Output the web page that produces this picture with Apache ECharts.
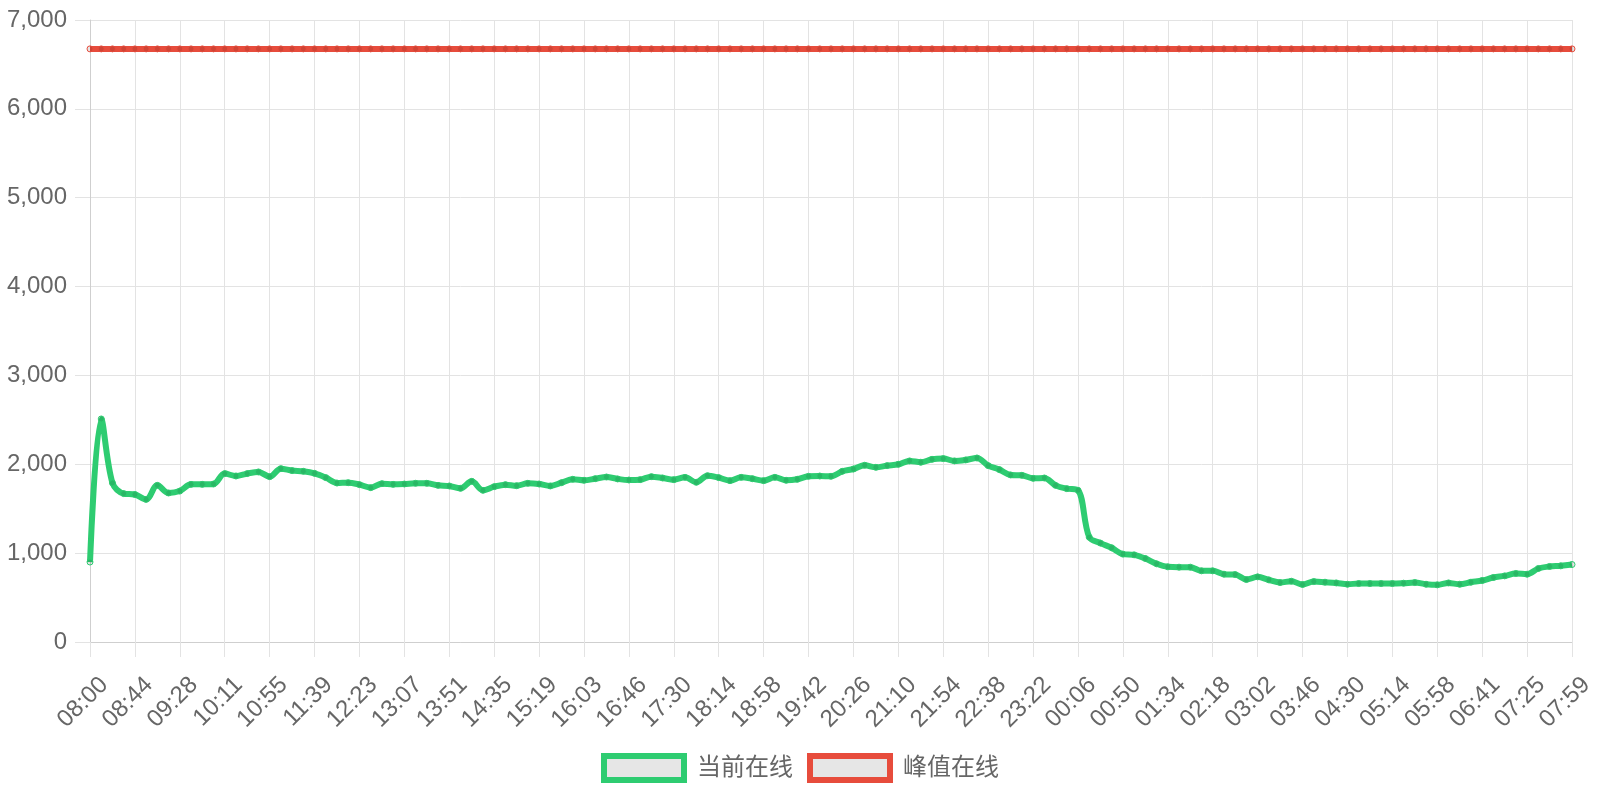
<!DOCTYPE html>
<html>
<head>
<meta charset="utf-8">
<script src="https://cdn.jsdelivr.net/npm/echarts@6/dist/echarts.min.js"></script>
<style>
html,body{margin:0;padding:0;background:#fff;}
#chart{width:1600px;height:800px;}
</style>
</head>
<body>
<div id="chart"></div>
<script>
const timeLabels = [
'08:00','08:11','08:22','08:33','08:44','08:55','09:06','09:17','09:28','09:39','09:50','10:00',
'10:11','10:22','10:33','10:44','10:55','11:06','11:17','11:28','11:39','11:50','12:01','12:12',
'12:23','12:34','12:45','12:56','13:07','13:18','13:29','13:40','13:51','14:02','14:13','14:24',
'14:35','14:46','14:57','15:08','15:19','15:30','15:41','15:52','16:03','16:14','16:25','16:35',
'16:46','16:57','17:08','17:19','17:30','17:41','17:52','18:03','18:14','18:25','18:36','18:47',
'18:58','19:09','19:20','19:31','19:42','19:53','20:04','20:15','20:26','20:37','20:48','20:59',
'21:10','21:21','21:32','21:43','21:54','22:05','22:16','22:27','22:38','22:49','23:00','23:11',
'23:22','23:33','23:44','23:55','00:06','00:17','00:28','00:39','00:50','01:01','01:12','01:23',
'01:34','01:45','01:56','02:07','02:18','02:29','02:40','02:51','03:02','03:13','03:24','03:35',
'03:46','03:57','04:08','04:19','04:30','04:41','04:52','05:03','05:14','05:25','05:36','05:47',
'05:58','06:09','06:20','06:30','06:41','06:52','07:03','07:14','07:25','07:34','07:42','07:51',
'07:59'
];

const currentOnline = [
900, 2510, 1790, 1670, 1660, 1605, 1763, 1677, 1699, 1774, 1774, 1778, 1895, 1868, 1895, 1914, 1861, 1951, 1929, 1921, 1898, 1850,
1789, 1793, 1771, 1737, 1782, 1774, 1778, 1786, 1786, 1763, 1756, 1729, 1808, 1707, 1748, 1771, 1759, 1786, 1778, 1756, 1793, 1831,
1820, 1838, 1857, 1835, 1823, 1827, 1861, 1846, 1827, 1853, 1797, 1872, 1850, 1816, 1853, 1838, 1816, 1853, 1820, 1831, 1865, 1868,
1865, 1921, 1947, 1989, 1966, 1985, 2000, 2038, 2023, 2056, 2064, 2038, 2049, 2071, 1985, 1940, 1880, 1876, 1842, 1846, 1763, 1726,
1707, 1180, 1113, 1060, 989, 981, 940, 880, 846, 842, 842, 801, 801, 763, 759, 703, 733, 699, 669, 684, 647, 680,
673, 665, 650, 658, 658, 658, 658, 662, 669, 650, 643, 665, 650, 673, 692, 726, 744, 771, 763, 827, 850, 857, 872
];

const peakOnline = [
6675,6675,6675,6675,6675,6675,6675,6675,6675,6675,6675,6675,6675,6675,6675,6675,6675,6675,6675,6675,6675,6675,
6675,6675,6675,6675,6675,6675,6675,6675,6675,6675,6675,6675,6675,6675,6675,6675,6675,6675,6675,6675,6675,6675,
6675,6675,6675,6675,6675,6675,6675,6675,6675,6675,6675,6675,6675,6675,6675,6675,6675,6675,6675,6675,6675,6675,
6675,6675,6675,6675,6675,6675,6675,6675,6675,6675,6675,6675,6675,6675,6675,6675,6675,6675,6675,6675,6675,6675,
6675,6675,6675,6675,6675,6675,6675,6675,6675,6675,6675,6675,6675,6675,6675,6675,6675,6675,6675,6675,6675,6675,
6675,6675,6675,6675,6675,6675,6675,6675,6675,6675,6675,6675,6675,6675,6675,6675,6675,6675,6675,6675,6675,6675,6675
];

const seriesNames = ['当前在线', '峰值在线'];
const yTicks = [0, 1000, 2000, 3000, 4000, 5000, 6000, 7000];

const GREEN = '#2ecc71';
const RED = '#e74c3c';
const FONT = '"Liberation Sans", Arial, "Noto Sans CJK SC", sans-serif';

function lineSeries(name, data, color) {
  return {
    name: name,
    type: 'line',
    data: data,
    smooth: 0.35,
    showAllSymbol: true,
    symbol: 'circle',
    symbolSize: 6,
    itemStyle: { color: 'rgba(0,0,0,0.1)', borderColor: color, borderWidth: 1 },
    lineStyle: { color: color, width: 6 },
    emphasis: { disabled: true },
    z: 2
  };
}

const chart = echarts.init(document.getElementById('chart'), null, { renderer: 'canvas' });
chart.setOption({
  animation: false,
  backgroundColor: '#fff',
  textStyle: { fontFamily: FONT },
  grid: { left: 90, right: 28, top: 20, bottom: 158 },
  legend: {
    left: 'center',
    top: 748,
    icon: 'rect',
    itemWidth: 80,
    itemHeight: 24,
    itemGap: 14,
    textStyle: { fontSize: 24, color: '#666', fontFamily: FONT, padding: [0, 0, 0, 8] },
    data: [
      { name: seriesNames[0], itemStyle: { color: '#e6e6e6', borderColor: GREEN, borderWidth: 6 } },
      { name: seriesNames[1], itemStyle: { color: '#e6e6e6', borderColor: RED, borderWidth: 6 } }
    ]
  },
  xAxis: {
    type: 'category',
    boundaryGap: false,
    data: timeLabels,
    axisLine: { show: true, lineStyle: { color: '#cfcfcf', width: 1 } },
    axisTick: { show: true, interval: 3, length: 15, lineStyle: { color: '#e3e3e3' } },
    splitLine: { show: true, interval: 3, lineStyle: { color: '#e3e3e3', width: 1 } },
    axisLabel: {
      interval: 3, rotate: 45, fontSize: 24, color: '#666', margin: 25,
      verticalAlign: 'top', padding: [8, 0, 0, 0],
      showMinLabel: true, showMaxLabel: true, hideOverlap: false,
      fontFamily: FONT
    }
  },
  yAxis: {
    type: 'value',
    min: yTicks[0],
    max: yTicks[yTicks.length - 1],
    interval: 1000,
    axisLine: { show: true, lineStyle: { color: '#cfcfcf', width: 1 } },
    axisTick: { show: true, length: 15, lineStyle: { color: '#e3e3e3' } },
    splitLine: { show: true, lineStyle: { color: '#e3e3e3', width: 1 } },
    axisLabel: {
      fontSize: 24, color: '#666', margin: 23, fontFamily: FONT,
      formatter: function (v) { return v.toLocaleString('en-US'); }
    }
  },
  series: [
    lineSeries(seriesNames[0], currentOnline, GREEN),
    lineSeries(seriesNames[1], peakOnline, RED)
  ]
});
</script>
</body>
</html>
